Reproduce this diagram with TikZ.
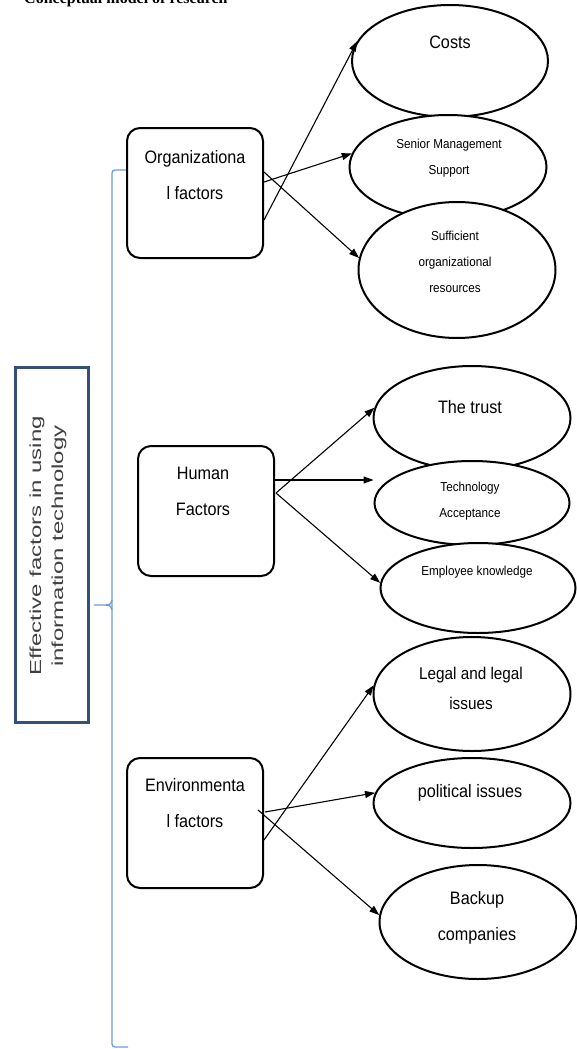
\documentclass[tikz,border=0pt]{standalone}
\usepackage{fontspec}
\setmainfont{Liberation Sans}
\newfontfamily\nf[FakeStretch=0.9]{Liberation Sans}
\newfontfamily\wf[FakeStretch=1.5]{Liberation Sans}
\newfontfamily\tf{Liberation Serif}
\usetikzlibrary{arrows.meta,shapes.geometric}
\definecolor{bracecol}{RGB}{110,155,215}
\definecolor{mainbox}{RGB}{52,80,118}
\definecolor{graytext}{RGB}{64,64,64}
\tikzset{
  factorbox/.style={draw=black, line width=2pt, rounded corners=13pt, fill=white,
    minimum width=136pt, minimum height=130pt, inner sep=0pt},
  ellbox/.style={draw=black, ellipse, line width=2pt, fill=white, inner sep=0pt},
  bigtxt/.style={font=\nf\fontsize{18}{36}\selectfont, align=center, inner sep=0pt},
  midtxt/.style={font=\nf\fontsize{17}{30}\selectfont, align=center, inner sep=0pt},
  smalltxt/.style={font=\nf\fontsize{13}{26}\selectfont, align=center, inner sep=0pt},
  arr/.style={-{Triangle[length=10pt,width=7pt]}, line width=1.1pt, black},
  bracket/.style={draw=bracecol, line width=1.3pt}
}
\begin{document}
\begin{tikzpicture}[x=1pt,y=-1pt]
\useasboundingbox (0,0) rectangle (577,1049);
\fill[white] (0,0) rectangle (577,1049);

% title (cut off at top, as in the reference)
\node[font=\tf\bfseries\fontsize{16}{18}\selectfont, anchor=base west, inner sep=0pt] (title) at (24,4) {Conceptual model of research};

% main box
\node[draw=mainbox, line width=3pt, minimum width=73pt, minimum height=355pt, inner sep=0pt] (main) at (51.5,545) {};
\node[rotate=90, font=\wf\fontsize{16}{22}\selectfont, text=graytext, align=center, inner sep=0pt] (mainT) at (48,546) {Effective factors in using\\information technology};

% bracket
\coordinate (bt) at (127,170);
\coordinate (bb) at (128,1047);
\coordinate (bm) at (94,605);
\draw[bracket, rounded corners=3pt] (bt) -- (112,170) -- (112,1047) -- (bb);
\draw[bracket] (bm) -- (106,605) .. controls (110,605) and (112,603) .. (112,600);
\draw[bracket] (106,605) .. controls (110,605) and (112,607) .. (112,610);

% factor boxes
\node[factorbox] (org) at (195,193) {};
\node[bigtxt] (orgT) at (195,175) {Organizationa\\l factors};
\node[factorbox] (hum) at (206,511) {};
\node[bigtxt] (humT) at (203,491) {Human\\Factors};
\node[factorbox] (env) at (195,823) {};
\node[bigtxt] (envT) at (195,803) {Environmenta\\l factors};

% organizational ellipses
\node[ellbox, minimum width=196pt, minimum height=112pt] (costs) at (450,61) {};
\node[ellbox, minimum width=197pt, minimum height=104pt] (senior) at (448,167) {};
\node[ellbox, minimum width=197pt, minimum height=136pt] (suff) at (457,270) {};
\node[bigtxt] (costsT) at (450,42) {Costs};
\node[smalltxt] (seniorT) at (449,158) {Senior Management\\Support};
\node[smalltxt] (suffT) at (455,262) {Sufficient\\organizational\\resources};

% human ellipses
\node[ellbox, minimum width=197pt, minimum height=104pt] (trust) at (472,418) {};
\node[ellbox, minimum width=195pt, minimum height=84pt] (tech) at (472,503) {};
\node[ellbox, minimum width=195pt, minimum height=90pt] (empl) at (478,588) {};
\node[bigtxt] (trustT) at (470,407) {The trust};
\node[smalltxt] (techT) at (470,501) {Technology\\Acceptance};
\node[smalltxt] (emplT) at (477,572) {Employee knowledge};

% environmental ellipses
\node[ellbox, minimum width=197pt, minimum height=114pt] (legal) at (472,694) {};
\node[ellbox, minimum width=197pt, minimum height=90pt] (pol) at (472,803) {};
\node[ellbox, minimum width=197pt, minimum height=114pt] (back) at (478,922) {};
\node[midtxt] (legalT) at (471,688) {Legal and legal\\issues};
\node[bigtxt] (polT) at (470,793) {political issues};
\node[bigtxt] (backT) at (477,918) {Backup\\companies};

% arrows: organizational
\draw[arr] ([yshift=-27pt]org.east) -- (costs.168);
\draw[arr] ([yshift=11pt]org.east) -- (senior.172);
\draw[arr] ([yshift=21pt]org.east) -- (suff.173);

% arrows: human
\draw[arr] ([xshift=1pt,yshift=18pt]hum.east) -- (trust.174);
\draw[arr] ([yshift=31pt]hum.east) -- ([yshift=23pt]tech.west);
\draw[arr] ([xshift=1pt,yshift=18pt]hum.east) -- (empl.177);

% arrows: environmental
\draw[arr] ([yshift=-17pt]env.east) -- (legal.175);
\draw[arr] ([xshift=1pt,yshift=11pt]env.east) -- (pol.174);
\draw[arr] ([xshift=-6pt,yshift=13pt]env.east) -- (back.176);
\end{tikzpicture}
\end{document}
